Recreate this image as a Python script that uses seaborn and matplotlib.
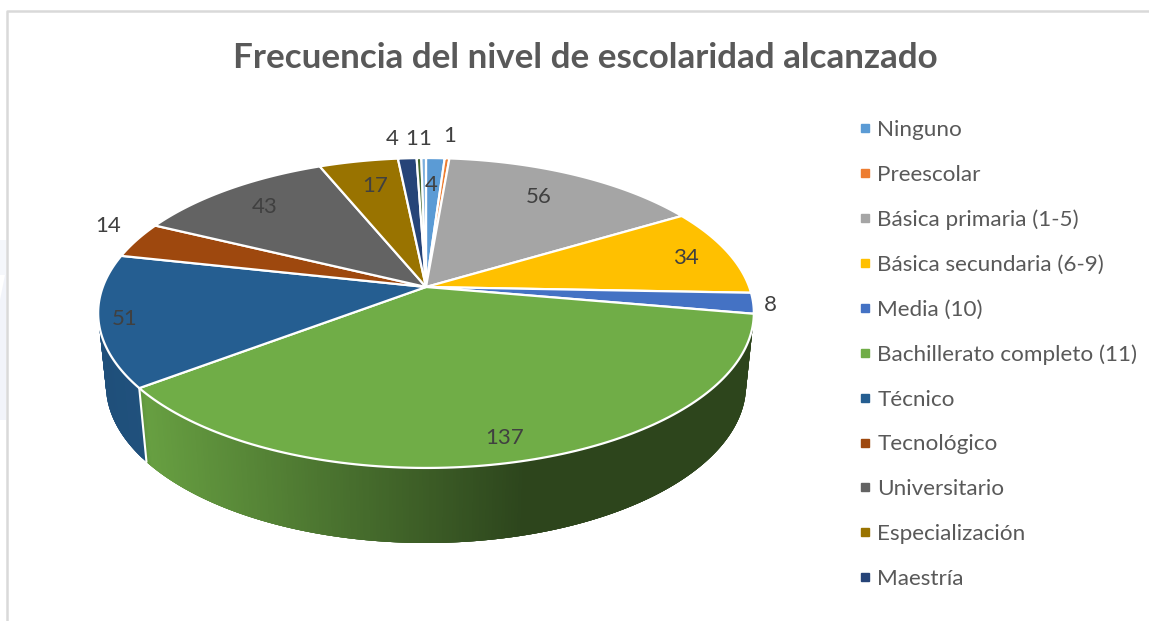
import numpy as np
import matplotlib
matplotlib.use("Agg")
import matplotlib.pyplot as plt
from matplotlib.lines import Line2D
import seaborn as sns

titulo = "Frecuencia del nivel de escolaridad alcanzado"
#the legend is cut off in the picture, last two slices have no readable name
niveles = ["Ninguno", "Preescolar", "Básica primaria (1-5)", "Básica secundaria (6-9)",
           "Media (10)", "Bachillerato completo (11)", "Técnico", "Tecnológico",
           "Universitario", "Especialización", "Maestría"]
valores = [4, 1, 56, 34, 8, 137, 51, 14, 43, 17, 4, 1, 1]
colores = ["#5B9BD5", "#ED7D31", "#A5A5A5", "#FFC000", "#4472C4", "#70AD47", "#255E91",
           "#9E480E", "#636363", "#997300", "#264478", "#43682B", "#7CAFDD"]

#label placement: radius on the disc and small pixel nudges
label_r = [0.77, 1.23, 0.77, 0.85, 1.05, 0.87, 0.93, 1.12, 0.82, 0.79, 1.2, 1.2, 1.2]
label_dx = [-2, -1, -6, 3, 1, 2, 2, 4, 3, 4, -12, -6, 1]
label_dy = [1, 2, -1, 2, 1, 3, 1, -9, 2, 1, 2, 2, 2]

sns.set_theme(style="white")
plt.rcParams["font.family"] = ["Lato", "DejaVu Sans"]
paleta = sns.color_palette(colores)

fig, ax = plt.subplots(figsize=(11.49, 6.21), dpi=100)
fig.subplots_adjust(0, 0, 1, 1)
ax.set_xlim(0, 1149)
ax.set_ylim(621, 0)
ax.axis("off")


#perspective projection of the disc, t in degrees clockwise from 12 o'clock
def tapa(t, r=1.0):
    u = r * np.sin(np.radians(t))
    v = r * np.cos(np.radians(t))
    d = 1 + 0.1677 * v
    return 426 + 323.2 * u / d, 287 - 150.6 * v / d


def base(t):
    u = np.sin(np.radians(t))
    v = np.cos(np.radians(t))
    d = 1 + 0.1646 * v
    return 426 + 315.7 * u / d, 359 - 153.7 * v / d


def sombra(x):
    return np.interp(x, [100, 140, 145, 525, 760], [0.84, 0.86, 0.92, 0.4, 0.4])


angulos = np.concatenate([[0], np.cumsum(valores)]) / np.sum(valores) * 360

#side wall, strip by strip so the shading follows x, each strip overlaps the next
for i, col in enumerate(paleta):
    t1 = max(angulos[i], 98)
    t2 = min(angulos[i + 1], 262)
    if t2 <= t1:
        continue
    ts = np.arange(t1, t2 + 0.5, 0.5)
    ts[-1] = t2
    for a, b in zip(ts[:-1], ts[1:]):
        b2 = t2 if b == t2 else min(b + 1.5, t2)
        seg = np.linspace(a, b2, 6)
        xt, yt = tapa(seg)
        xb, yb = base(seg)
        f = sombra(np.mean(tapa(np.array([a, b]))[0]))
        c = tuple(np.array(col) * f)
        ax.fill(np.r_[xt, xb[::-1]], np.r_[yt, yb[::-1]], color=c, lw=0, zorder=2)

#white seam between Bachillerato and Tecnico on the wall
seam = angulos[6]
xs, ys = tapa(seam)
xe, ye = base(seam)
ax.plot([xs, xe], [ys, ye], color="white", lw=1.5, zorder=3)

#top of the disc
for i, col in enumerate(paleta):
    ts = np.linspace(angulos[i], angulos[i + 1], 120)
    x, y = tapa(ts)
    ax.fill(np.r_[426, x], np.r_[287, y], facecolor=col, edgecolor="white", lw=1.6,
            joinstyle="round", zorder=4)

#data labels
for i, val in enumerate(valores):
    medio = (angulos[i] + angulos[i + 1]) / 2
    x, y = tapa(medio, label_r[i])
    ax.text(x + label_dx[i], y + label_dy[i], str(val), color="#404040", fontsize=16,
            ha="center", va="center", zorder=5)

ax.text(585, 58, titulo, color="#595959", fontsize=25.2, fontweight="bold",
        ha="center", va="center")

handles = [Line2D([], [], ls="", marker="s", ms=5.8, color=paleta[i]) for i in range(len(niveles))]
ax.legend(handles, niveles, loc="upper left", bbox_to_anchor=(858, 120),
          bbox_transform=ax.transData, frameon=False, fontsize=16.2, labelcolor="#595959",
          labelspacing=1.10, handlelength=0.6, handletextpad=0.25, borderpad=0, borderaxespad=0)

#frame of the pasted chart and the faint marks on the left edge
ax.plot([7, 7, 1149], [621, 11, 11], color="#D9D9D9", lw=1.8, zorder=1)
ax.fill([0, 6, 6, 0], [300, 270, 420, 420], color="#F2F4FA", lw=0, zorder=0)
ax.fill([0, 6, 6, 0], [240, 240, 275, 275], color="#F5F7FB", lw=0, zorder=0)

fig.savefig("out.png", dpi=100)
